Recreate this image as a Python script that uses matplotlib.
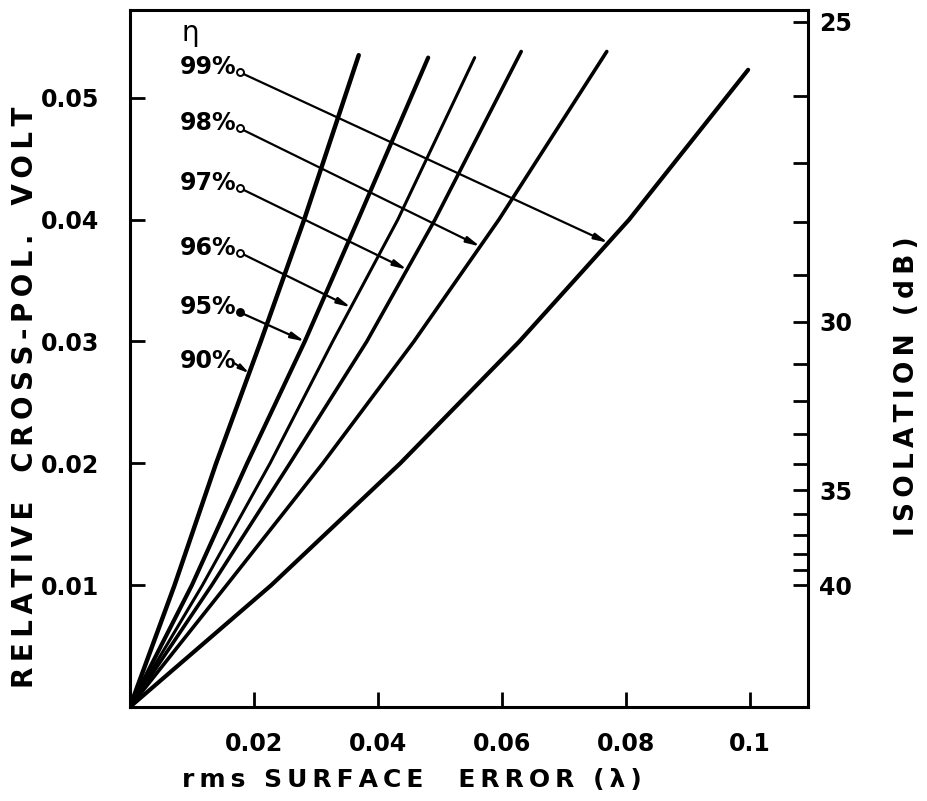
import numpy as np
import matplotlib
matplotlib.use('Agg')
from matplotlib import pyplot as plt

# cross-pol voltage levels where curve positions were read
volt = [0.0, 0.01, 0.02, 0.03, 0.04]

# rms surface error (lambda) of each efficiency curve at those levels, plus end point
eta_labels = ['90%', '95%', '96%', '97%', '98%', '99%']
err_90 = [0.0, 0.0072, 0.0139, 0.0211, 0.0281, 0.0369]
err_95 = [0.0, 0.0100, 0.0189, 0.0282, 0.0368, 0.0481]
err_96 = [0.0, 0.0117, 0.0226, 0.0327, 0.0432, 0.0556]
err_97 = [0.0, 0.0132, 0.0258, 0.0382, 0.0492, 0.0631]
err_98 = [0.0, 0.0156, 0.0311, 0.0458, 0.0595, 0.0769]
err_99 = [0.0, 0.0228, 0.0436, 0.0628, 0.0805, 0.0997]
volt_end = [0.0535, 0.0533, 0.0533, 0.0538, 0.0538, 0.0523]
widths = [3.2, 3.0, 2.2, 2.6, 2.6, 3.0]

# label rows (y of the little circles) and where each arrow hits its curve
label_y = [0.0284, 0.0324, 0.0373, 0.0426, 0.0475, 0.0521]
arrow_y = [0.0274, 0.0300, 0.0328, 0.0359, 0.0378, 0.0381]

iso_db = np.arange(25, 41)
iso_labels = [25, 30, 35, 40]

curves = [err_90, err_95, err_96, err_97, err_98, err_99]


def spaced(s):
    # stencil style lettering is widely spaced
    return '\u2009'.join(s)


fig = plt.figure(figsize=(9.28, 8.01), dpi=100)
ax = fig.add_axes([0.140, 0.1174, 0.731, 0.870])

for err, vend, lw in zip(curves, volt_end, widths):
    ax.plot(err, volt + [vend], c='black', lw=lw, solid_capstyle='round')

ax.set_xlim(0, 0.1094)
ax.set_ylim(0, 0.0572)

fs = 17
ax.set_xticks([0.02, 0.04, 0.06, 0.08, 0.1])
ax.set_xticklabels(['0.02', '0.04', '0.06', '0.08', '0.1'])
ax.set_yticks([0.01, 0.02, 0.03, 0.04, 0.05])
ax.set_yticklabels(['0.01', '0.02', '0.03', '0.04', '0.05'])
ax.tick_params(axis='x', direction='in', length=11, width=2, labelsize=fs, pad=18)
ax.tick_params(axis='y', direction='in', length=11, width=2, labelsize=fs, pad=22)
for t in ax.get_xticklabels() + ax.get_yticklabels():
    t.set_fontweight('bold')
for s in ax.spines.values():
    s.set_linewidth(2.2)

ax2 = ax.twinx()
ax2.set_ylim(ax.get_ylim())
ax2.set_yticks([10 ** (-d / 20) for d in iso_labels])
ax2.set_yticklabels([str(d) for d in iso_labels])
ax2.set_yticks([10 ** (-d / 20) for d in iso_db if d not in iso_labels], minor=True)
ax2.tick_params(which='both', direction='in', length=11, width=2, labelsize=fs, pad=8)
for t in ax2.get_yticklabels():
    t.set_fontweight('bold')

x0 = 0.0177
for i, lab in enumerate(eta_labels):
    err = curves[i]
    yy = volt + [volt_end[i]]
    xe = np.interp(arrow_y[i], yy, err)
    if i == 0:
        ax.text(x0 - 0.0005, label_y[i], lab, ha='right', va='center', fontsize=fs, fontweight='bold')
        ax.annotate('', xy=(xe, arrow_y[i]), xytext=(x0 - 0.0008, label_y[i] - 0.0002),
                    arrowprops=dict(arrowstyle='-|>,head_length=0.6,head_width=0.15', lw=1.5,
                                    color='black', shrinkA=0, shrinkB=0))
        continue
    ax.text(x0 - 0.0005, label_y[i] + 0.0004, lab, ha='right', va='center', fontsize=fs, fontweight='bold')
    ax.annotate('', xy=(xe, arrow_y[i]), xytext=(x0, label_y[i]),
                arrowprops=dict(arrowstyle='-|>,head_length=0.8,head_width=0.18', lw=1.6,
                                color='black', shrinkA=0, shrinkB=0))
    ax.plot([x0], [label_y[i]], 'o', ms=5, mfc='black' if lab == '95%' else 'white',
            mec='black', mew=1.4, zorder=5)

ax.text(0.0097, 0.0553, 'η', ha='center', va='center', fontsize=20)

ax.text(0.415, -0.105, spaced('rms SURFACE') + '    ' + spaced('ERROR (λ)'),
        transform=ax.transAxes, ha='center', va='center', fontsize=18, fontweight='bold')
ax.text(-0.155, 0.445, spaced('RELATIVE') + '   ' + spaced('CROSS-POL.') + '   ' + spaced('VOLT'),
        transform=ax.transAxes, ha='center', va='center', rotation=90, fontsize=20, fontweight='bold')
ax.text(1.145, 0.46, spaced('ISOLATION') + '  ' + spaced('(dB)'),
        transform=ax.transAxes, ha='center', va='center', rotation=90, fontsize=19, fontweight='bold')

plt.savefig('out.png')
